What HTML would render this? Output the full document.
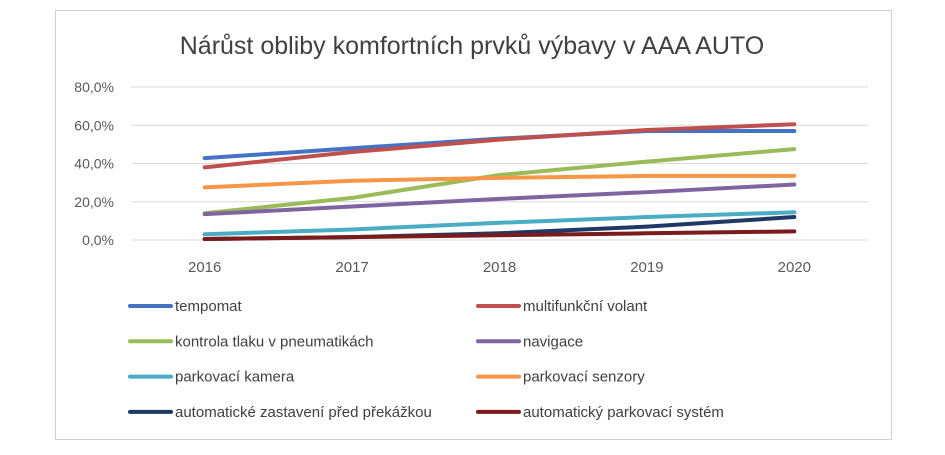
<!DOCTYPE html>
<html><head><meta charset="utf-8"><style>
body{margin:0;background:#fff;width:945px;height:450px;overflow:hidden}
svg text{font-family:"Liberation Sans",sans-serif}
</style></head><body>
<svg width="945" height="450">
<rect x="55.5" y="10.5" width="836" height="429" fill="#fff" stroke="#d0d0d0"/>
<text x="472" y="54" font-size="25" fill="#404040" text-anchor="middle">Nárůst obliby komfortních prvků výbavy v AAA AUTO</text>
<g id="grid"></g><g id="ylab"></g><g id="xlab"></g><g id="lines"></g><g id="legend"></g>
</svg>
<script>
const categories=["2016","2017","2018","2019","2020"];
const yTicks=[0,20,40,60,80];
const tempomat=[42.8,48,53,57,57];
const volant=[38,46,52.5,57.5,60.5];
const tlak=[14,22,34,41,47.5];
const navigace=[13.5,17.5,21.5,25,29];
const kamera=[3,5.5,9,12,14.5];
const senzory=[27.5,31,32.5,33.5,33.5];
const zastaveni=[0.5,1.5,3.5,7,12];
const parkSys=[0.5,1.5,2.5,3.5,4.5];
const names=["tempomat","multifunkční volant","kontrola tlaku v pneumatikách","navigace","parkovací kamera","parkovací senzory","automatické zastavení před překážkou","automatický parkovací systém"];
const series=[tempomat,volant,tlak,navigace,kamera,senzory,zastaveni,parkSys];
const colors=["#4472c4","#c0504d","#9bbb59","#8064a2","#4bacc6","#f79646","#1f3864","#7b1c1c"];
const NS="http://www.w3.org/2000/svg";
const x0=131,x1=868,yb=240,yt=87;
const xs=i=>x0+(x1-x0)*(i+0.5)/categories.length;
const ys=v=>yb-(yb-yt)*v/80;
function mk(t,a,p){const e=document.createElementNS(NS,t);for(const k in a)e.setAttribute(k,a[k]);p.appendChild(e);return e;}
const g=document.getElementById('grid'),yl=document.getElementById('ylab'),xl=document.getElementById('xlab'),L=document.getElementById('lines'),lg=document.getElementById('legend');
yTicks.forEach(v=>{
 const l=mk('line',{x1:x0,x2:x1,y1:ys(v),y2:ys(v),stroke:'#d9d9d9','stroke-width':1},g);
 
 
 const t=mk('text',{x:114,y:ys(v)+5,'font-size':14,fill:'#595959','text-anchor':'end'},yl);
 t.textContent=v.toFixed(1).replace('.',',')+'%';
 
 
});
categories.forEach((c,i)=>{
 const t=mk('text',{x:xs(i),y:272,'font-size':15,fill:'#595959','text-anchor':'middle'},xl);
 t.textContent=c;
 
 
});
series.forEach((s,k)=>{
 const p=mk('polyline',{points:s.map((v,i)=>xs(i)+','+ys(v)).join(' '),fill:'none',stroke:colors[k],'stroke-width':4,'stroke-linecap':'round','stroke-linejoin':'round'},L);
 
 
 const col=k%2,row=Math.floor(k/2);
 const lx=col?478:130,ly=306+row*35.3;
 const ln=mk('line',{x1:lx,x2:lx+41,y1:ly,y2:ly,stroke:colors[k],'stroke-width':4,'stroke-linecap':'round'},lg);
 
 
 const t=mk('text',{x:lx+45,y:ly+5,'font-size':15,fill:'#404040'},lg);
 t.textContent=names[k];
 
 
});
</script>
</body></html>
